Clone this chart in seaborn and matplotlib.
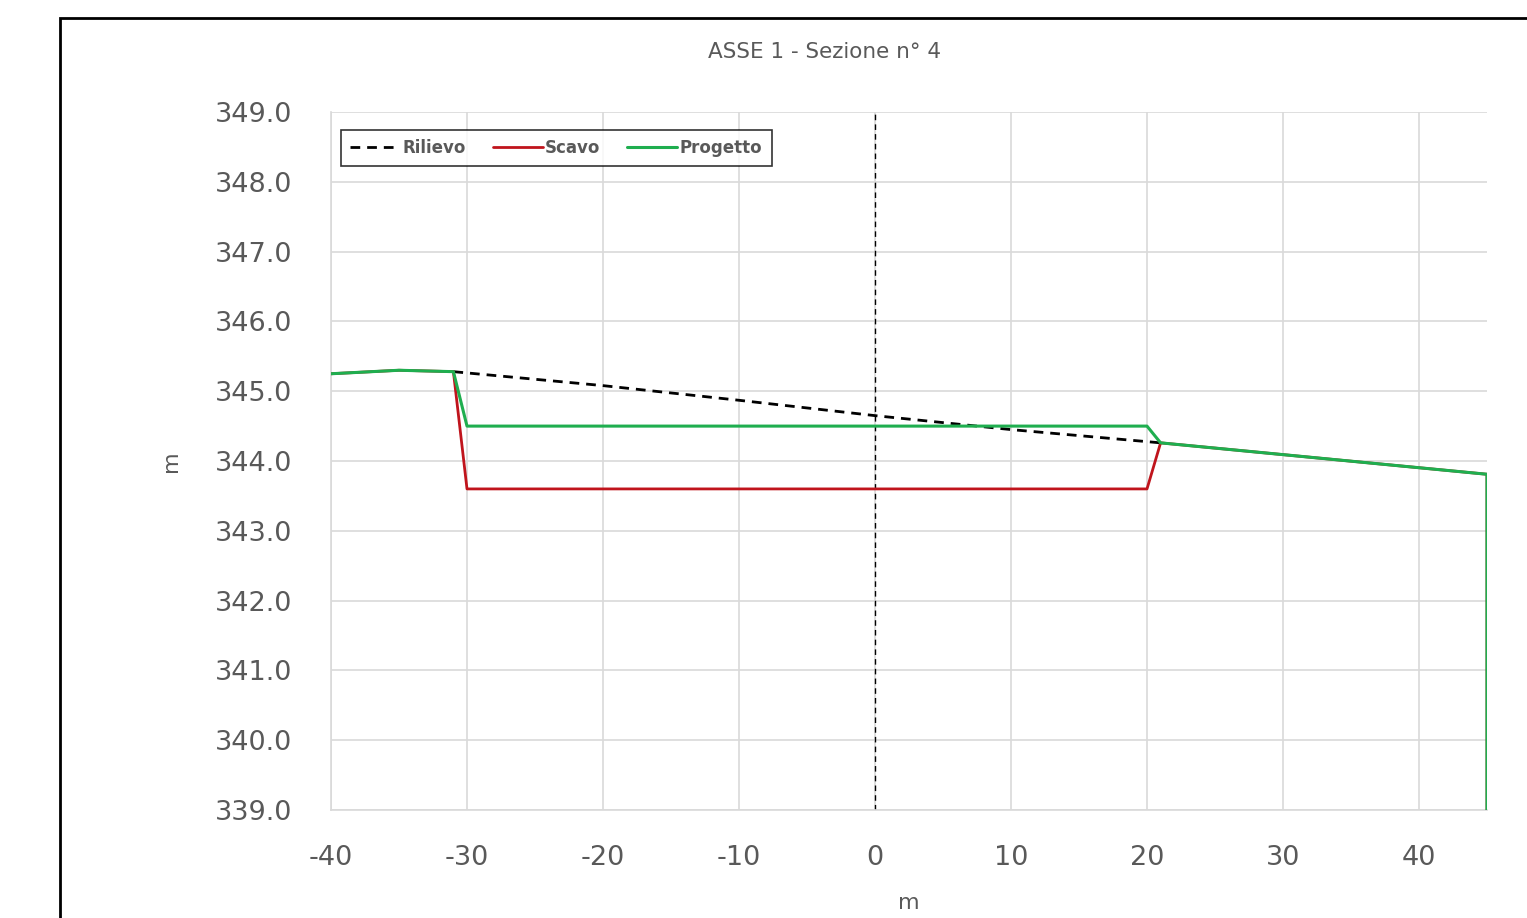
import matplotlib
matplotlib.use("Agg")
import matplotlib.pyplot as plt
import seaborn as sns
import pandas as pd
from matplotlib.patches import Rectangle

# Data
rilievo_x = [-31, -20, -10, 0, 10, 21]
rilievo_y = [345.28, 345.08, 344.87, 344.65, 344.45, 344.26]

scavo_x = [-40, -35, -31, -30, 20, 21, 45, 45]
scavo_y = [345.25, 345.30, 345.28, 343.60, 343.60, 344.26, 343.81, 339.0]

progetto_x = [-40, -35, -31, -30, 20, 21, 45, 45]
progetto_y = [345.25, 345.30, 345.28, 344.50, 344.50, 344.26, 343.81, 339.0]

axis_x = 0
title = "ASSE 1 - Sezione n° 4"
xticks = [-40, -30, -20, -10, 0, 10, 20, 30, 40]
yticks = [339, 340, 341, 342, 343, 344, 345, 346, 347, 348, 349]

sns.set_style("white")
plt.rcParams['font.family'] = ['DejaVu Sans']
plt.rcParams['axes.unicode_minus'] = False

fig = plt.figure(figsize=(15.27, 9.18), dpi=100)
ax = fig.add_axes([331/1527, 1-810/918, (1487-331)/1527, (810-112)/918])

# outer chart border (Excel-like chart area)
fig.patches.append(Rectangle((60/1527, -0.05), 1.2, 1-18/918+0.05, transform=fig.transFigure,
                             fill=False, edgecolor="black", linewidth=2))

df_r = pd.DataFrame({"x": rilievo_x, "y": rilievo_y})
df_s = pd.DataFrame({"x": scavo_x, "y": scavo_y})
df_p = pd.DataFrame({"x": progetto_x, "y": progetto_y})

ax.axvline(axis_x, color="black", linestyle=(0, (4, 3)), linewidth=1.0, zorder=2)
sns.lineplot(data=df_r, x="x", y="y", ax=ax, sort=False, estimator=None,
             color="black", linestyle=(0, (3.5, 2.5)), linewidth=2.0, label="Rilievo", zorder=3)
sns.lineplot(data=df_s, x="x", y="y", ax=ax, sort=False, estimator=None,
             color="#c0141c", linewidth=2.0, label="Scavo", zorder=4)
sns.lineplot(data=df_p, x="x", y="y", ax=ax, sort=False, estimator=None,
             color="#1fae4f", linewidth=2.2, label="Progetto", zorder=5)

ax.set_xlim(-40, 45)
ax.set_ylim(339, 349)
ax.set_xticks(xticks)
ax.set_yticks(yticks)
ax.set_yticklabels([f"{v:.1f}" for v in yticks])
ax.grid(True, color="#d9d9d9", linewidth=1.2)
ax.set_axisbelow(True)
for s in ["top", "right"]:
    ax.spines[s].set_visible(False)
for s in ["left", "bottom"]:
    ax.spines[s].set_color("#d9d9d9")
    ax.spines[s].set_linewidth(1.2)
ax.tick_params(axis="both", length=0, labelsize=19.5, labelcolor="#595959")
ax.tick_params(axis="y", pad=28)
ax.tick_params(axis="x", pad=25)

ax.set_xlabel("m", fontsize=16, color="#595959", labelpad=16)
ax.set_ylabel("m", fontsize=16, color="#595959", labelpad=24)
fig.text(825/1527, 1-52/918, title, ha="center", va="center", fontsize=15.5, color="#595959")

leg = ax.legend(loc="upper left", bbox_to_anchor=(10/1156, 1-18/698), ncol=3, frameon=True,
                fancybox=False, edgecolor="black", handlelength=3.0, columnspacing=1.6,
                handletextpad=0.15, borderpad=0.55, borderaxespad=0,
                prop={"weight": "bold", "size": 12})
leg.get_frame().set_linewidth(1.2)
for t in leg.get_texts():
    t.set_color("#595959")

fig.savefig("out.png", dpi=100)
